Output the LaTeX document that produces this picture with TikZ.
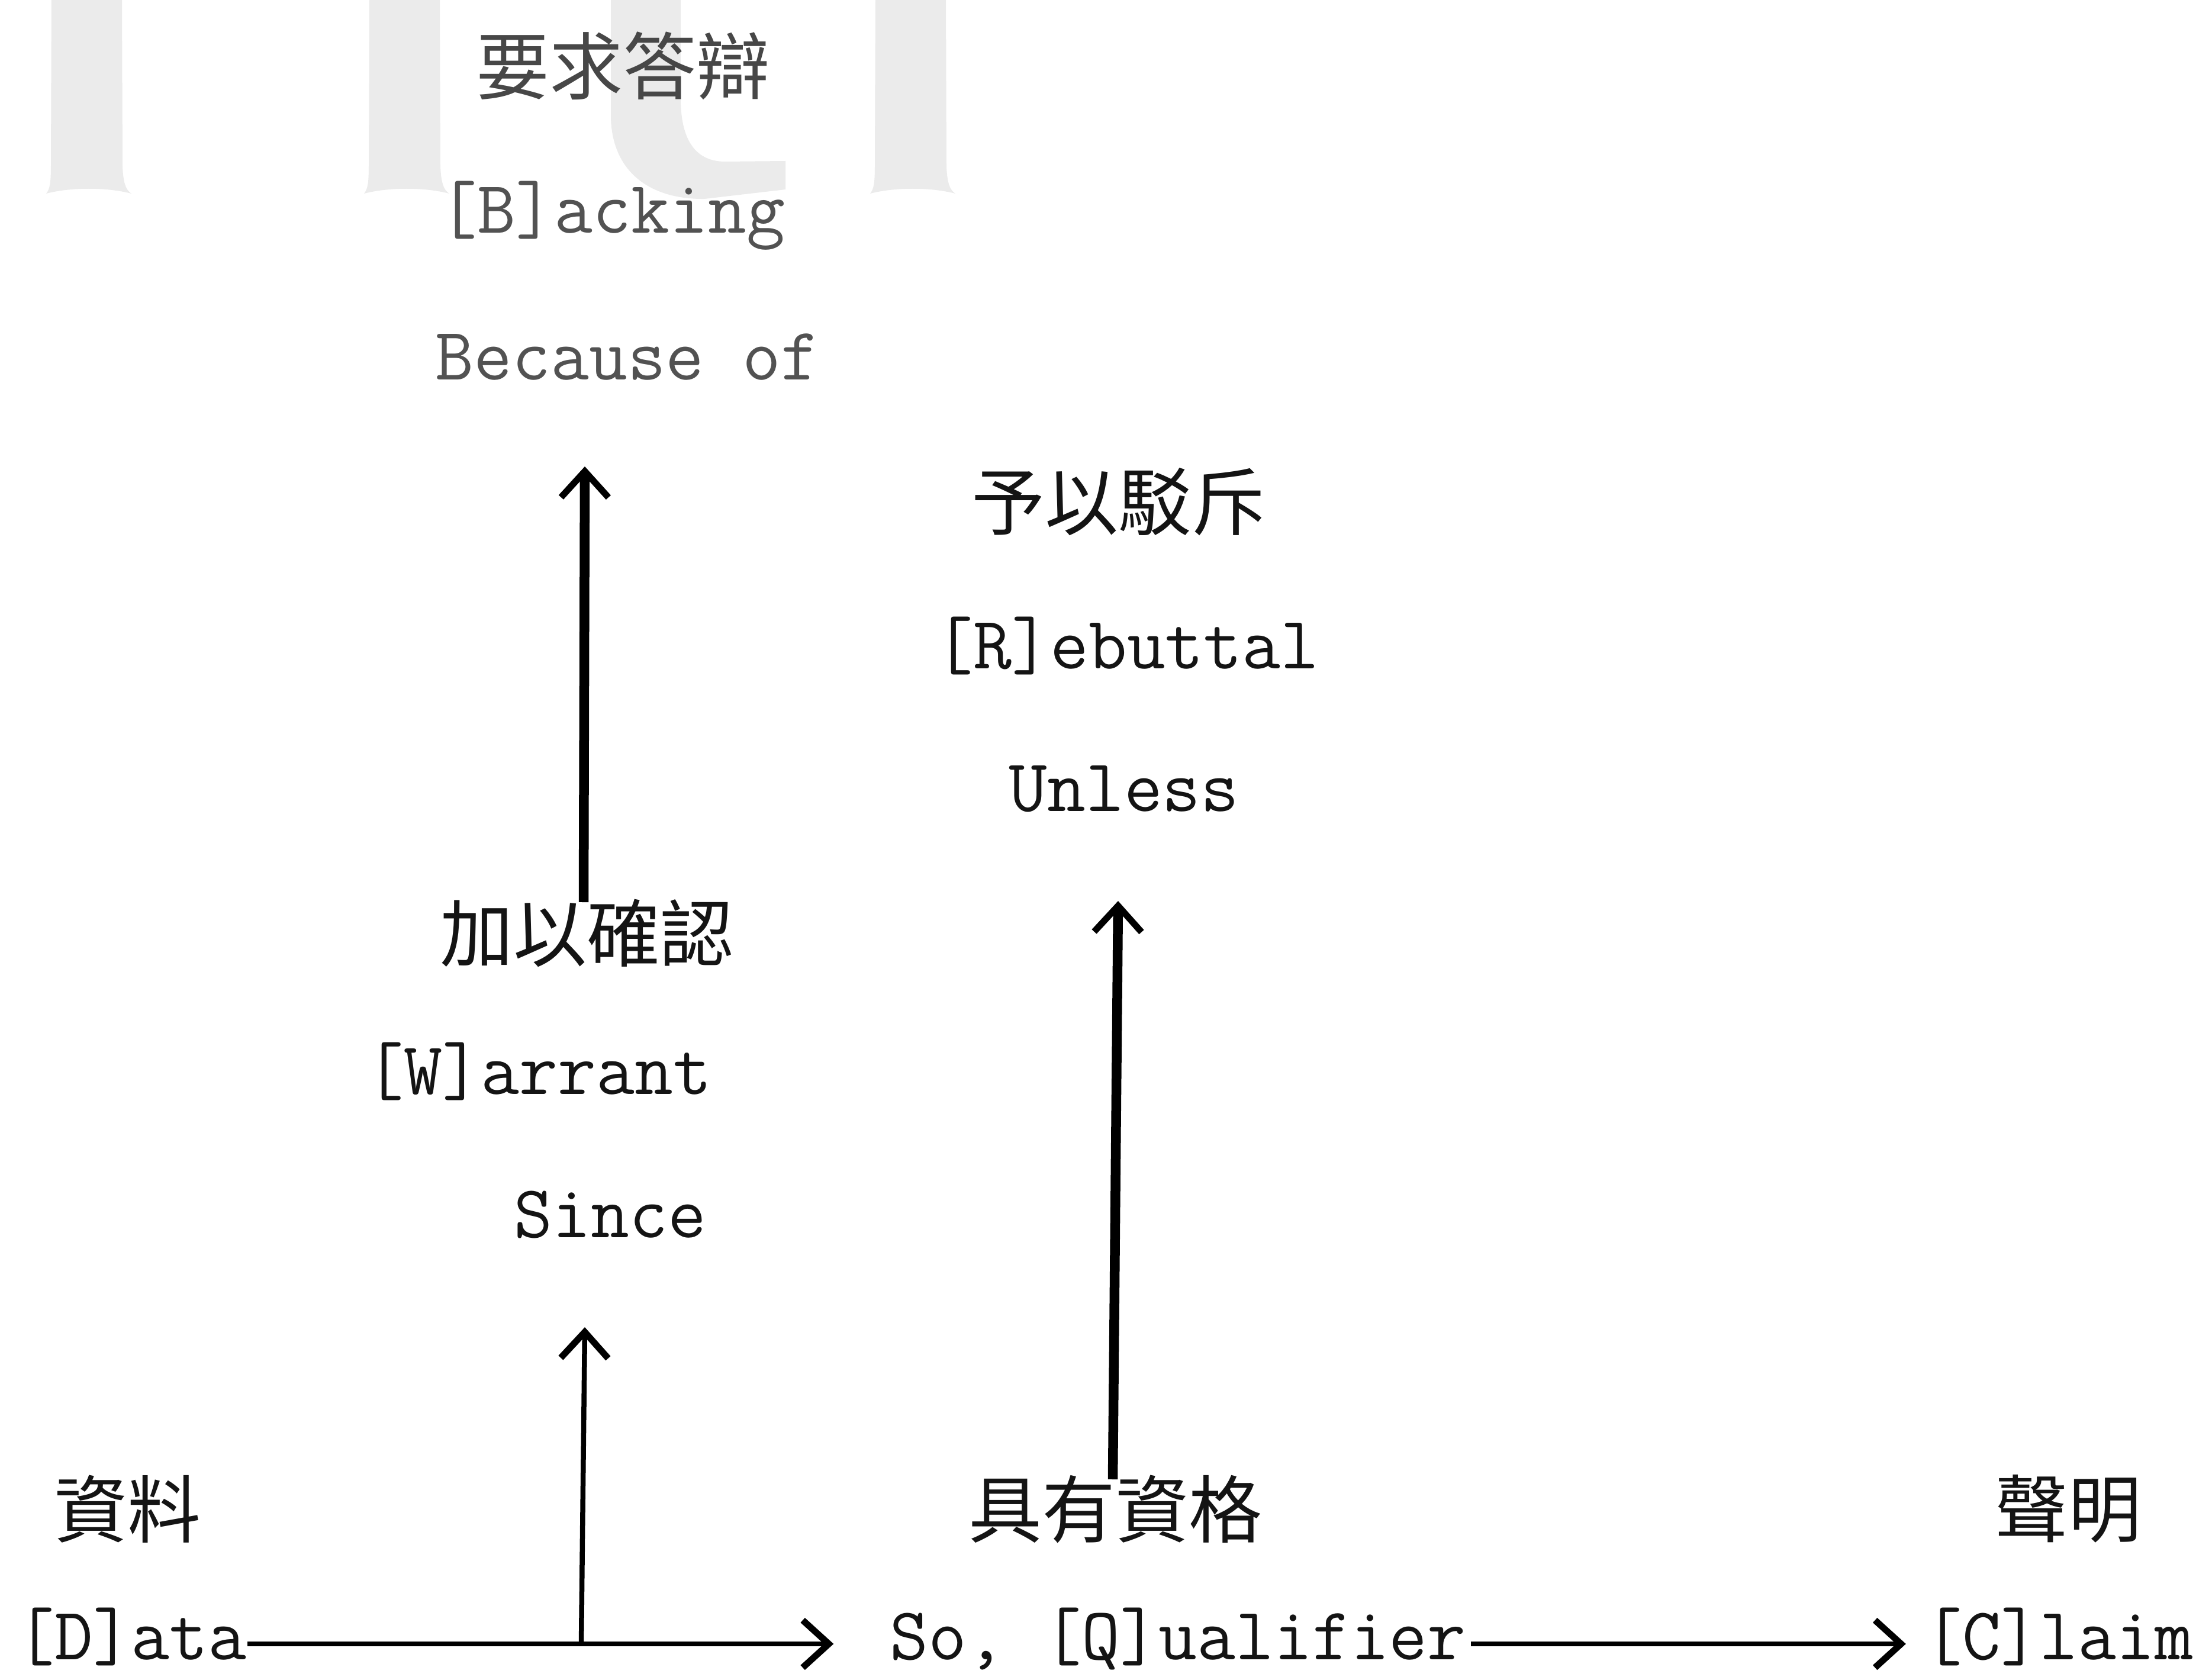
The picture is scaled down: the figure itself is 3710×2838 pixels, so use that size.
\documentclass[tikz,border=0pt]{standalone}
\usepackage{fontspec}
\newfontfamily\cjk{Noto Sans CJK TC}
\usetikzlibrary{arrows.meta}
\begin{document}
\begin{tikzpicture}[x=0.2pt,y=-0.2pt,
  lat/.style={inner sep=0pt, anchor=base, font=\ttfamily\fontsize{25.2pt}{28pt}\selectfont, text=black!92},
  han/.style={inner sep=0pt, anchor=center, font=\cjk\fontsize{24.8pt}{28pt}\selectfont, text=black!92},
  wm/.style={fill=black!8, draw=none},
  barb/.tip={Straight Barb[length=8.8pt, width=16pt, line width=2.2pt]},
  thickarrow/.style={draw=black, line width=3.3pt, -barb},
  thinarrow/.style={draw=black, line width=1.7pt, -barb},
  flowarrow/.style={draw=black, line width=1.6pt, -barb}
]
\useasboundingbox[fill=white] (0,0) rectangle (3710,2838);

% watermark
\foreach \dx in {0,537,1392}{
  \fill[wm, shift={(\dx,0)}] (87,0) -- (206,0) -- (207,280)
    .. controls (208,312) and (214,322) .. (222,327)
    .. controls (180,316) and (120,316) .. (78,327)
    .. controls (84,320) and (86,310) .. (86,280) -- cycle;
}
\fill[wm] (1032,0) -- (1032,200) .. controls (1035,292) and (1100,337) .. (1190,336)
  -- (1327,320) -- (1327,272) -- (1225,273)
  .. controls (1172,273) and (1150,232) .. (1150,167) -- (1150,0) -- cycle;

% texts
\node[han, text=black!72] (bcjk) at (1052,111) {要求答辯};
\node[lat, text=black!68] (backing) at (1034,394) {[B]acking};
\node[lat, text=black!68] (because) at (1060,641) {Because of};
\node[han] (rcjk) at (1889,848) {予以駁斥};
\node[lat] (rebuttal) at (1904,1129) {[R]ebuttal};
\node[lat] (unless) at (1899,1370) {Unless};
\node[han] (wcjk) at (991,1576) {加以確認};
\node[lat] (warrant) at (910,1848) {[W]arrant};
\node[lat] (since) at (1031,2090) {Since};
\node[han] (dcjk) at (215,2549) {資料};
\node[han] (qcjk) at (1884,2549) {具有資格};
\node[han] (ccjk) at (3494,2549) {聲明};
\node[lat] (data) at (222,2803) {[D]ata};
\node[lat] (qual) at (1990,2803) {So, [Q]ualifier};
\node[lat] (claim) at (3478,2803) {[C]laim};

% connector points
\coordinate (dline) at (0,2777);
\coordinate (wfoot) at (982,2777);
\coordinate (wtip) at (988,2242);
\coordinate (bfoot) at (986,1524);
\coordinate (btip) at (988,788);
\coordinate (rfoot) at (1880,2499);
\coordinate (rtip) at (1889,1522);

% connectors
\draw[flowarrow] (data.east |- dline) -- ([xshift=-18.8pt]qual.west |- dline);
\draw[flowarrow] ([xshift=1.5pt]qual.east |- dline) -- ([xshift=-6pt]claim.west |- dline);
\draw[thinarrow] (wfoot) -- (wtip);
\draw[thickarrow] (bfoot) -- (btip);
\draw[thickarrow] (rfoot) -- (rtip);
\end{tikzpicture}
\end{document}
